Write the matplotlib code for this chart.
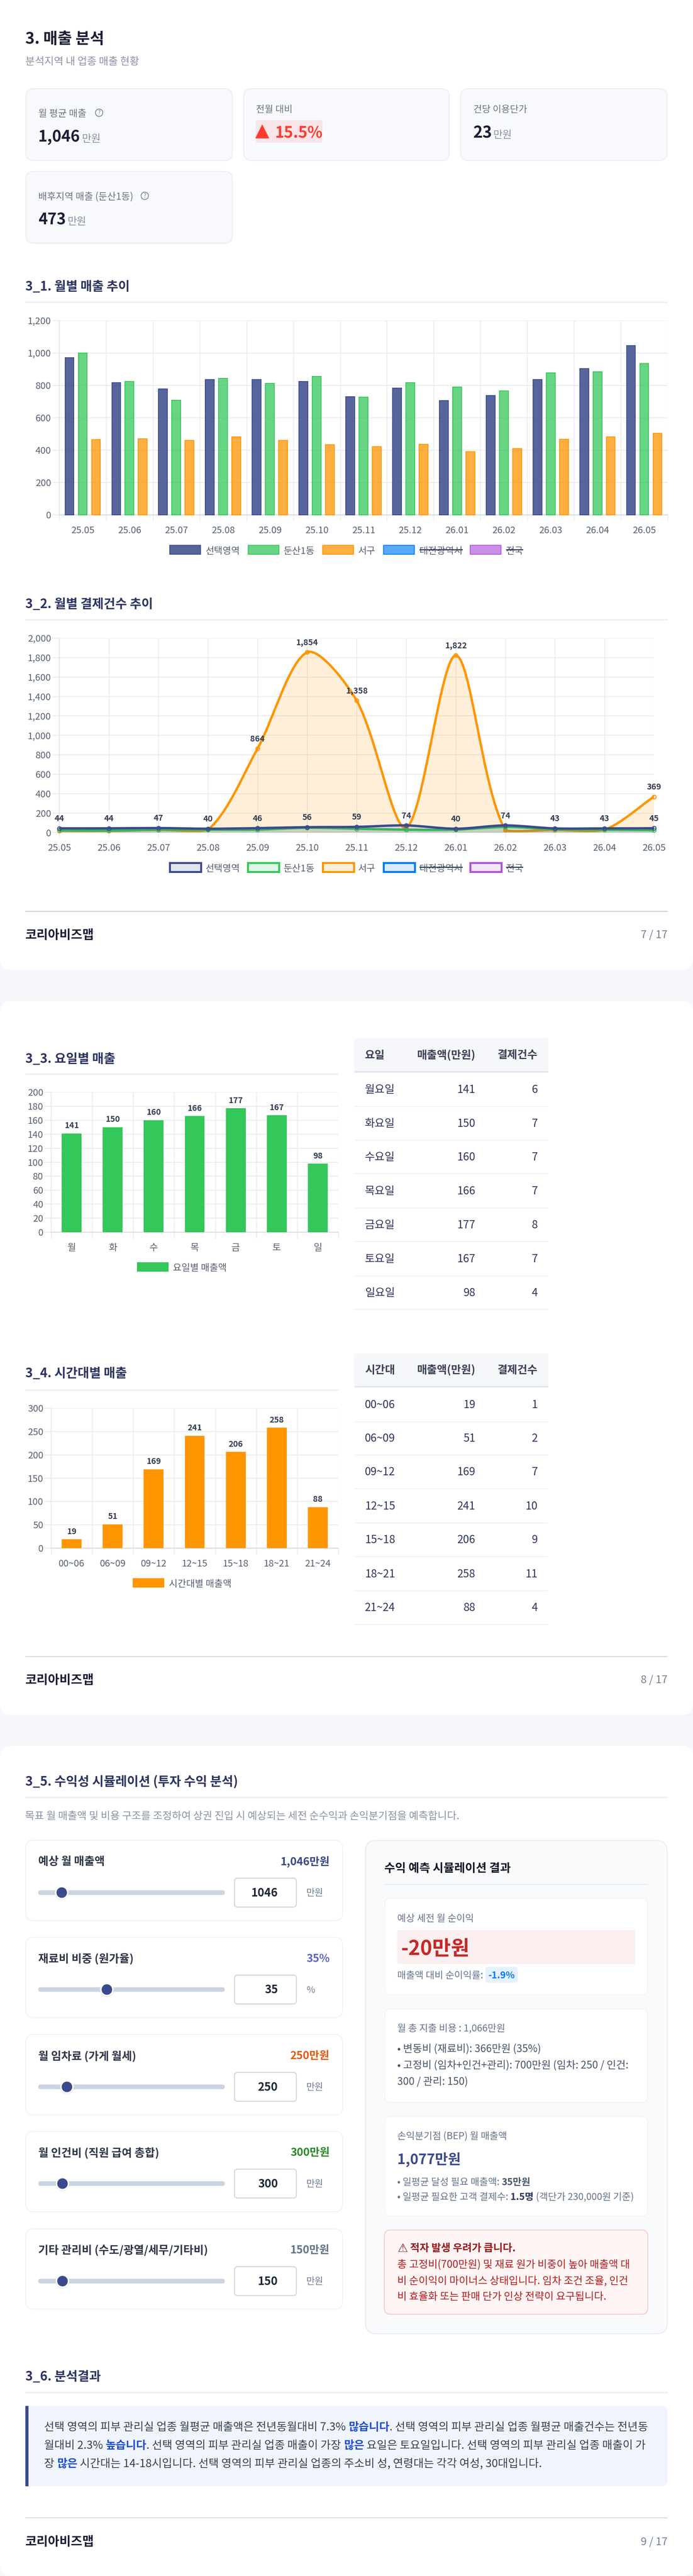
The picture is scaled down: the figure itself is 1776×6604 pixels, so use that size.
import matplotlib
matplotlib.use('Agg')
import matplotlib.pyplot as plt
import numpy as np
from matplotlib.patches import FancyBboxPatch, Rectangle, Circle, PathPatch, Ellipse
from matplotlib.path import Path
from matplotlib.colors import to_rgba

plt.rcParams['font.family'] = ['Noto Sans CJK KR', 'DejaVu Sans']

# ---------- data ----------
months = ['25.05','25.06','25.07','25.08','25.09','25.10','25.11','25.12','26.01','26.02','26.03','26.04','26.05']
sales_selected = [971,817,778,836,836,825,730,783,707,737,835,903,1046]
sales_dunsan = [1000,823,708,843,813,856,727,817,791,767,877,885,936]
sales_seogu = [464,470,460,482,460,434,421,435,390,409,467,483,504]
count_selected = [44,44,47,40,46,56,59,74,40,74,43,43,45]
count_dunsan = [25,22,30,30,30,50,40,30,30,58,35,30,25]
count_seogu = [20,18,28,30,864,1854,1358,50,1822,25,28,30,369]
weekdays = ['월','화','수','목','금','토','일']
weekday_full = ['월요일','화요일','수요일','목요일','금요일','토요일','일요일']
weekday_sales = [141,150,160,166,177,167,98]
weekday_count = [6,7,7,7,8,7,4]
hours = ['00~06','06~09','09~12','12~15','15~18','18~21','21~24']
hour_sales = [19,51,169,241,206,258,88]
hour_count = [1,2,7,10,9,11,4]
slider_labels = ['예상 월 매출액','재료비 비중 (원가율)','월 임차료 (가게 월세)','월 인건비 (직원 급여 총합)','기타 관리비 (수도/광열/세무/기타비)']
slider_texts = ['1,046만원','35%','250만원','300만원','150만원']
slider_inputs = ['1046','35','250','300','150']
slider_units = ['만원','%','만원','만원','만원']
slider_colors = ['#3B4A8C','#5A67C8','#E8590C','#2B8A2B','#64748B']
slider_fracs = [0.126,0.368,0.154,0.130,0.130]

NAVY='#3B4A8C'; GREEN='#34C759'; ORANGE='#FF9500'; BLUE='#007AFF'; PURPLE='#AF52DE'
BG='#F5F7FB'; GRID='#E8E9EC'; VGRID='#E0E1E5'; TICK='#556070'; TITLE='#2D3561'

W,H=1776,6604
fig=plt.figure(figsize=(W/100,H/100),dpi=100,facecolor=BG)
pg=fig.add_axes([0,0,1,1],zorder=0)
pg.set_xlim(0,W); pg.set_ylim(H,0); pg.axis('off')
P=0.72
DY=3

def rrect(x0,y0,x1,y1,r=16,fc='white',ec='none',lw=0,z=1,ax=pg):
    p=FancyBboxPatch((x0+r,y0+r),x1-x0-2*r,y1-y0-2*r,boxstyle=f'round,pad={r},rounding_size={r}',
        fc=fc,ec=ec,lw=lw*P,zorder=z)
    ax.add_patch(p); return p

def T(x,y,s,px=24,color='#333',w='normal',ha='left',va='center',z=5,family=None):
    kw={}
    if family: kw['family']=family
    return pg.text(x,y+DY,s,fontsize=px*P,color=color,fontweight=w,ha=ha,va=va,zorder=z,**kw)

def runs(x,y,parts,px,z=5):
    r=fig.canvas.get_renderer()
    for s,c,w in parts:
        t=T(x,y,s,px,c,w,z=z)
        x=t.get_window_extent(r).x1 if not s.endswith(' ') else x+_adv(s,px,w,r)
    return x

def _adv(s,px,w,r):
    t=T(0,0,s.rstrip()+'|',px,'k',w); a=t.get_window_extent(r).width; t.remove()
    t=T(0,0,'|',px,'k',w); b=t.get_window_extent(r).width; t.remove()
    t=T(0,0,'a a',px,'k',w); c=t.get_window_extent(r).width; t.remove()
    t=T(0,0,'aa',px,'k',w); d=t.get_window_extent(r).width; t.remove()
    return a-b+(c-d)*(len(s)-len(s.rstrip()))

def hline(x0,x1,y,c,lw=2,z=2):
    pg.add_patch(Rectangle((x0,y-lw/2),x1-x0,lw,fc=c,ec='none',zorder=z))

def axes_px(l,t,r,b):
    return fig.add_axes([l/W,1-b/H,(r-l)/W,(b-t)/H],zorder=3,facecolor='none')

def footer(yrule,ytext,page):
    hline(65,1711,yrule,'#CBD5E1',2.5)
    T(65,ytext,'코리아비즈맵',32,'#1A1F36','bold')
    T(1711,ytext,page,27.5,'#718096',ha='right')

def section(y,yrule,s,x1=1711):
    T(65,y,s,32.4,TITLE,'bold')
    hline(65,x1,yrule,'#EEF0F5',4)

def style_axes(ax,ylim,yticks,xlim,ticklen_y=18,ticklen_x=16,ysize=24):
    ax.set_ylim(*ylim); ax.set_xlim(*xlim)
    ax.set_yticks(yticks)
    ax.set_yticklabels([f'{v:,}' for v in yticks])
    ax.tick_params(axis='y',length=ticklen_y*P,width=2*P,color=GRID,labelsize=ysize*P,labelcolor=TICK,pad=3*P)
    ax.grid(axis='y',color=GRID,lw=2*P,zorder=0)
    ax.set_axisbelow(True)
    for k in ['top','right']: ax.spines[k].set_visible(False)
    ax.spines['left'].set_color('#DDDFE4'); ax.spines['left'].set_linewidth(2*P)
    ax.spines['bottom'].set_color('#D9DBE0'); ax.spines['bottom'].set_linewidth(2.5*P)

def cat_axis(ax,labels):
    n=len(labels)
    ax.set_xticks(range(n)); ax.set_xticklabels(labels)
    ax.tick_params(axis='x',which='major',length=0,labelsize=24*P,labelcolor=TICK,pad=29*P)
    ax.set_xticks(np.arange(-0.5,n),minor=True)
    ax.tick_params(axis='x',which='minor',length=16*P,width=1.3*P,color=VGRID)
    ax.grid(axis='x',which='minor',color=VGRID,lw=1.3*P,zorder=0)

def legend_px(y,h,items,lw=2,px=24,tc='#555F72'):
    for (x0,x1,tx,label,col,alpha,hidden) in items:
        pg.add_patch(Rectangle((x0+lw/2,y-h/2+lw/2),x1-x0-lw,h-lw,fc=to_rgba(col,alpha),ec=col,lw=lw*P,zorder=5))
        t=T(tx,y,label,px,tc)
        if hidden:
            e=t.get_window_extent(fig.canvas.get_renderer())
            hline(tx,e.x1,y,'#3A4560',3,z=6)

# ---------- page cards ----------
rrect(0,-60,W,2486,28)
rrect(0,2566,W,4396,28)
rrect(0,4476,W,6604,28)

# ---------- header ----------
T(65,97,'3. 매출 분석',40,'#1A1F36','bold')
T(65,156,'분석지역 내 업종 매출 현황',26.5,'#8A94A6')

def kpi(x0,y0,x1,y1):
    rrect(x0+1.5,y0+1.5,x1-1.5,y1-1.5,20,'#F8F9FC','#EEF0F5',3)
def help_icon(x,y):
    pg.add_patch(Circle((x,y),9.5,fc='none',ec='#7A8494',lw=2*P,zorder=5))
    T(x,y-DY,'?',15,'#7A8494',ha='center')
LBL='#6B7485'; VAL='#1A1F36'; UNI='#8A94A6'
kpi(65,226,597,413)
T(98,289,'월 평균 매출',24.5,LBL); help_icon(254,289)
T(98,349,'1,046',40,VAL,'bold'); T(210,354,'만원',26.5,UNI)
kpi(623,226,1153,413)
T(656,279,'전월 대비',24,LBL)
pg.add_patch(Rectangle((656,308),170,58,fc='#F8E5E7',ec='none',zorder=2))
T(654,333,'▲',47,'#FF3B30','bold',family=['DejaVu Sans'])
T(705,339,'15.5%',40,'#FF3B30','bold')
kpi(1179,226,1711,413)
T(1213,279,'건당 이용단가',24,LBL)
T(1213,339,'23',41,VAL,'bold'); T(1264,344,'만원',26.5,UNI)
kpi(65,438,597,625)
T(98,502,'배후지역 매출 (둔산1동)',24.5,LBL); help_icon(371,502)
T(98,561,'473',40,VAL,'bold'); T(173,566,'만원',26.5,UNI)

# ---------- 3_1 ----------
section(733,775.5,'3_1. 월별 매출 추이')
ax=axes_px(152,822,1711,1320)
style_axes(ax,(0,1200),list(range(0,1201,200)),(-0.5,12.5))
cat_axis(ax,months)
bw=0.19; pitch=0.283
x=np.arange(len(months))
for off,vals,col,a in [(-pitch,sales_selected,NAVY,.85),(0,sales_dunsan,GREEN,.75),(pitch,sales_seogu,ORANGE,.75)]:
    bars=ax.bar(x+off,vals,bw,color=to_rgba(col,a),edgecolor=col,linewidth=2*P,zorder=3,clip_on=False)
    rx,ry=0.05,13.0
    for b in bars:
        l,r,t=b.get_x()-0.008,b.get_x()+b.get_width()+0.008,b.get_height()+2.4
        V=[(l,-20),(l,t-ry),(l,t),(l+rx,t),(r-rx,t),(r,t),(r,t-ry),(r,-20),(l,-20)]
        C=[Path.MOVETO,Path.LINETO,Path.CURVE3,Path.CURVE3,Path.LINETO,Path.CURVE3,Path.CURVE3,Path.LINETO,Path.CLOSEPOLY]
        b.set_clip_path(Path(V,C),ax.transData)
legend_px(1410,25,[(434,515,527,'선택영역',NAVY,.85,False),(635,716,727,'둔산1동',GREEN,.75,False),
    (826,907,918,'서구',ORANGE,.75,False),(982,1063,1075,'대전광역시',BLUE,.65,True),(1204,1285,1297,'전국',PURPLE,.65,True)])

# ---------- 3_2 ----------
section(1547,1589,'3_2. 월별 결제건수 추이')
ax=axes_px(152,1636,1676,2134.5)
yt=list(range(0,2001,200))
style_axes(ax,(0,2000),yt,(0,12))
ax.set_xticks(range(13)); ax.set_xticklabels(months)
ax.tick_params(axis='x',length=14*P,width=1.3*P,color=VGRID,labelsize=24*P,labelcolor=TICK,pad=14.5*P)
ax.grid(axis='x',color=VGRID,lw=1.3*P,zorder=0)

def spline_path(ax,xs,ys,t=0.3):
    pts=ax.transData.transform(np.column_stack([xs,ys]))
    n=len(pts); prev=[];nxt=[]
    for i in range(n):
        p0=pts[max(i-1,0)];p1=pts[i];p2=pts[min(i+1,n-1)]
        d01=np.hypot(*(p1-p0));d12=np.hypot(*(p2-p1));s=d01+d12
        s01,s12=(d01/s,d12/s) if s>0 else (0,0)
        prev.append(p1-t*s01*(p2-p0)); nxt.append(p1+t*s12*(p2-p0))
    inv=ax.transData.inverted()
    V=[xs[0],ys[0]]; V=[tuple(V)];C=[Path.MOVETO]
    for i in range(n-1):
        a=inv.transform(nxt[i]);b=inv.transform(prev[i+1])
        a[1]=max(a[1],0);b[1]=max(b[1],0)
        V+= [tuple(a),tuple(b),(xs[i+1],ys[i+1])]; C+=[Path.CURVE4]*3
    return V,C

xs=list(range(13))
for vals,col,z in [(count_seogu,ORANGE,3),(count_dunsan,GREEN,4),(count_selected,NAVY,5)]:
    V,C=spline_path(ax,xs,vals)
    fV=V+[(12,0),(0,0),(0,0)]; fC=C+[Path.LINETO,Path.LINETO,Path.CLOSEPOLY]
    ax.add_patch(PathPatch(Path(fV,fC),fc=to_rgba(col,.15),ec='none',zorder=z))
    ax.add_patch(PathPatch(Path(V,C),fc='none',ec=col,lw=6*P,zorder=z+.1,capstyle='round',joinstyle='round'))
    ax.plot(xs,vals,ls='none',marker='o',ms=10*P,mfc=to_rgba(col,.15),mec=col,mew=2.2*P,zorder=z+.2,clip_on=False)
for i,v in enumerate(count_selected):
    ax.annotate(f'{v:,}',(i,v),xytext=(0,25*P),textcoords='offset points',ha='center',va='center',
        fontsize=21*P,fontweight='bold',color='#333D52',zorder=8,annotation_clip=False)
for i,v in enumerate(count_seogu):
    if v>100:
        ax.annotate(f'{v:,}',(i,v),xytext=(0,25*P),textcoords='offset points',ha='center',va='center',
            fontsize=21*P,fontweight='bold',color='#333D52',zorder=8,annotation_clip=False)
legend_px(2224,28,[(432,517,527,'선택영역',NAVY,.15,False),(632,717,727,'둔산1동',GREEN,.15,False),
    (824,909,918,'서구',ORANGE,.15,False),(980,1065,1075,'대전광역시',BLUE,.15,True),(1202,1287,1297,'전국',PURPLE,.15,True)],lw=5)
footer(2336.5,2395,'7 / 17')

# ---------- tables ----------
def table(x0,x1,ytop,yhead,borders,header,c1,c2,c3):
    pg.add_patch(Rectangle((x0,ytop),x1-x0,yhead-ytop,fc=BG,ec='none',zorder=2))
    hline(x0,x1,yhead-2,'#E2E6EC',4,z=3)
    ym=(ytop+yhead-3)/2-2
    hc='#3A4257'
    T(935,ym,header,28,hc,'bold'); T(1218.5,ym,'매출액(만원)',28,hc,'bold',ha='right'); T(1378,ym,'결제건수',28,hc,'bold',ha='right')
    prev=yhead
    for a,b,c,yb in zip(c1,c2,c3,borders):
        m=(prev+yb)/2-2
        T(935,m,a,28,'#2D3561'); T(1218.5,m,str(b),28,'#2D3561',ha='right'); T(1378,m,str(c),28,'#2D3561',ha='right')
        hline(x0,x1,yb,'#EEF0F4',2)
        prev=yb

# ---------- 3_3 ----------
T(65,2712,'3_3. 요일별 매출',32.4,TITLE,'bold'); hline(65,867,2754,'#EEF0F5',4)
def daybar(box,vals,labels,col,ticks,ymax):
    ax=axes_px(*box)
    style_axes(ax,(0,ymax),ticks,(-0.5,6.5),ticklen_y=17)
    cat_axis(ax,labels)
    ax.spines['left'].set_color(GRID)
    bars=ax.bar(range(7),vals,0.485,color=col,zorder=3)
    for i,v in enumerate(vals):
        ax.annotate(str(v),(i,v),xytext=(0,20*P),textcoords='offset points',ha='center',va='center',
            fontsize=21*P,fontweight='bold',color='#333D52',zorder=6)
    return ax
daybar((131,2800,867,3159),weekday_sales,weekdays,GREEN,list(range(0,201,20)),200)
pg.add_patch(Rectangle((351,3236),80.5,24,fc=GREEN,ec='none',zorder=5))
T(443,3248,'요일별 매출액',24,'#555F72')
table(908,1405,2662,2750,[2837,2923,3009,3097,3183,3271,3357],'요일',weekday_full,weekday_sales,weekday_count)

# ---------- 3_4 ----------
T(65,3519,'3_4. 시간대별 매출',32.4,TITLE,'bold'); hline(65,867,3564,'#EEF0F5',4)
daybar((131,3610,867,3969),hour_sales,hours,ORANGE,list(range(0,301,50)),300)
pg.add_patch(Rectangle((340,4046),80.5,24,fc=ORANGE,ec='none',zorder=5))
T(433,4058,'시간대별 매출액',24,'#555F72')
table(908,1405,3470,3557,[3645,3730,3817,3904,3991,4078,4165],'시간대',hours,hour_sales,hour_count)
footer(4247,4305,'8 / 17')

# ---------- 3_5 ----------
section(4565,4608,'3_5. 수익성 시뮬레이션 (투자 수익 분석)')
T(64,4654,'목표 월 매출액 및 비용 구조를 조정하여 상권 진입 시 예상되는 세전 순수익과 손익분기점을 예측합니다.',26.5,'#8A94A6')
tops=[4717,4965.5,5215,5463,5713]
for top,lab,val,inp,unit,vc,fr in zip(tops,slider_labels,slider_texts,slider_inputs,slider_units,slider_colors,slider_fracs):
    rrect(66,top+1,878,top+207,20,'white','#EEF1F5',2)
    T(98,top+53,lab,28.5,'#2D3748','bold')
    T(845,top+53,val,28,vc,'bold',ha='right')
    rrect(98,top+129,576,top+141,6,'#CBD5E1',z=3)
    cx=98+fr*(576-98)
    pg.add_patch(Ellipse((cx,top+136),36,36,fc='#00000018',ec='none',zorder=4))
    pg.add_patch(Circle((cx,top+135),15.5,fc=NAVY,ec='white',lw=4*P,zorder=5))
    rrect(601,top+98,759.5,top+172,8,'white','#CBD5E1',2.5)
    T(712,top+133,inp,29,'#1F2937','bold',ha='right')
    T(785,top+134,unit,24,'#718096')

# result panel
rrect(936.5,4718.5,1710,5983,28,'#F8FAFC','#E7ECF2',2.5)
T(985,4787.5,'수익 예측 시뮬레이션 결과',30,'#111827','bold')
hline(984,1661,4831,'#E2E8F0',2)
for a,b in [(4866,5114),(5150,5390),(5426,5682)]:
    rrect(986,a,1660,b,16,'white','#F0F3F7',2)
GR='#64748B'
T(1018,4916,'예상 세전 월 순이익',24.4,GR)
rrect(1018,4948,1628,5035,6,'#FBEEEE',z=3)
T(1027,4993,'-20만원',52,'#C62828','bold')
T(1018,5062.5,'매출액 대비 순이익률:',24.4,GR)
rrect(1244,5042,1327,5083,8,'#E6F1FE',z=3)
T(1285.5,5062,'-1.9%',24,BLUE,'bold',ha='center')
T(1018,5198,'월 총 지출 비용 : 1,066만원',24.6,GR)
SL='#475569'
T(1018,5250,'• 변동비 (재료비): 366만원 (35%)',26.5,SL)
T(1018,5292,'• 고정비 (임차+인건+관리): 700만원 (임차: 250 / 인건:',26.5,SL)
T(1018,5334,'300 / 관리: 150)',26.5,SL)
T(1018,5474,'손익분기점 (BEP) 월 매출액',24.4,GR)
T(1018,5534,'1,077만원',36,NAVY,'bold')
runs(1018,5592,[('• 일평균 달성 필요 매출액: ',GR,'normal'),('35만원',SL,'bold')],24.5)
runs(1018,5630,[('• 일평균 필요한 고객 결제수: ',GR,'normal'),('1.5명',TITLE,'bold'),(' (객단가 230,000원 기준)',GR,'normal')],24.5)
rrect(985,5717,1660,5933,16,'#FFF5F5','#FECACA',2.5)
T(1018,5761,'⚠',30,'#991B1B',family=['DejaVu Sans'])
T(1051,5761,'적자 발생 우려가 큽니다.',26.5,'#991B1B','bold')
AL='#B91C1C'
T(1018,5803,'총 고정비(700만원) 및 재료 원가 비중이 높아 매출액 대',26.5,AL)
T(1018,5845,'비 순이익이 마이너스 상태입니다. 임차 조건 조율, 인건',26.5,AL)
T(1018,5885,'비 효율화 또는 판매 단가 인상 전략이 요구됩니다.',26.5,AL)

# ---------- 3_6 ----------
section(6090,6134,'3_6. 분석결과')
rrect(65,6168,1711,6374,16,'#F0F4FD',z=2)
pg.add_patch(Rectangle((65,6168),8,206,fc=NAVY,ec='none',zorder=3))
TX='#374151'; HI='#1D4ED8'
runs(113,6220,[('선택 영역의 피부 관리실 업종 월평균 매출액은 전년동월대비 7.3% ',TX,'normal'),('많습니다',HI,'bold'),('. 선택 영역의 피부 관리실 업종 월평균 매출건수는 전년동',TX,'normal')],28.5)
runs(113,6267,[('월대비 2.3% ',TX,'normal'),('높습니다',HI,'bold'),('. 선택 영역의 피부 관리실 업종 매출이 가장 ',TX,'normal'),('많은',HI,'bold'),(' 요일은 토요일입니다. 선택 영역의 피부 관리실 업종 매출이 가',TX,'normal')],28.5)
runs(113,6314,[('장 ',TX,'normal'),('많은',HI,'bold'),(' 시간대는 14-18시입니다. 선택 영역의 피부 관리실 업종의 주소비 성, 연령대는 각각 여성, 30대입니다.',TX,'normal')],28.5)
footer(6455,6514,'9 / 17')

fig.savefig('out.png',dpi=100,facecolor=BG)
